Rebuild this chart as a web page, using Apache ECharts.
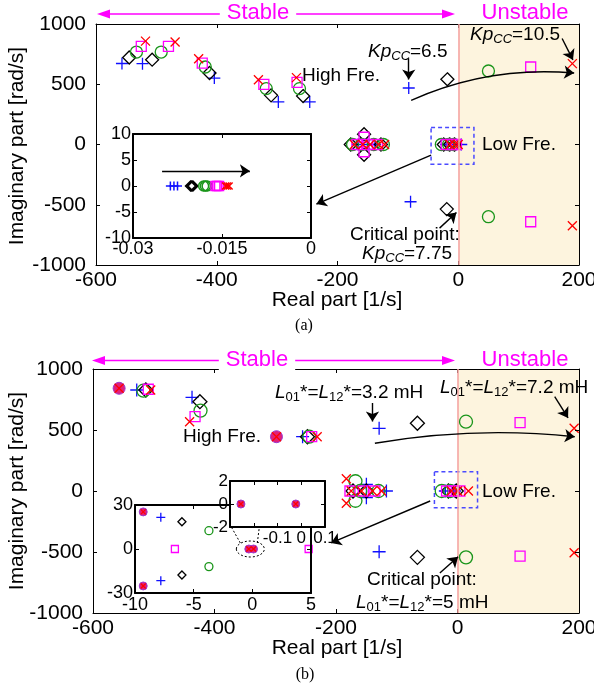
<!DOCTYPE html>
<html><head><meta charset="utf-8">
<script src="https://cdn.jsdelivr.net/npm/echarts/dist/echarts.min.js"></script>
<style>html,body{margin:0;padding:0;background:#fff}#c{width:594px;height:687px}</style>
</head><body><div id="c"></div>
<script>
// ================= DATA =================
// tick labels
const mainXTicks = ['-600','-400','-200','0','200'];
const mainYTicks = ['-1000','-500','0','500','1000'];
const aInXTicks = ['-0.03','-0.015','0'];
const aInYTicks = ['-10','-5','0','5','10'];
const bInXTicks = ['-10','-5','0','5'];
const bInYTicks = ['-30','0','30'];
const bZoomXTicks = ['','','-0.1','0','0.1'];
const bZoomYTicks = ['-2','0','2'];
const unstableRange = [0, 200];

// (a) main plot poles  [real, imag]
const aPlus = [[-557,672],[-523,671],[-404,551],[-298,353],[-246,353],
  [-166,0],[-150,0],[-138,0],[-20,0],[-8,0],[5,0],[-82,469],[-79,-475]];
const aDiamond = [[-545,722],[-507,704],[-412,593],[-310,408],[-257,402],
  [-178,0],[-156,85],[-156,-85],[-128,0],[-24,0],[-14,0],[-6,0],[-18,541],[-19,-536]];
const aCircle = [[-533,767],[-492,767],[-419,643],[-318,464],[-263,464],
  [-175,0],[-160,0],[-140,0],[-124,0],[-28,0],[-16,0],[-8,0],[50,610],[50,-599]];
const aSquare = [[-525,814],[-480,814],[-424,676],[-322,499],[-267,516],
  [-168,0],[-156,60],[-156,-60],[-150,0],[-134,0],[-20,0],[-10,0],[-3,0],[120,643],[120,-641]];
const aCross = [[-518,858],[-469,850],[-430,712],[-331,538],[-268,555],
  [-172,0],[-158,0],[-146,0],[-132,0],[-122,0],[-14,0],[-6,0],[0,0],[189,671],[189,-674]];
// (a) inset poles
const aInPlus = [[-0.0237,0],[-0.0231,0],[-0.0225,0]];
const aInDiamond = [[-0.0203,0],[-0.0201,0],[-0.0199,0]];
const aInCircle = [[-0.0181,0],[-0.0178,0],[-0.0175,0]];
const aInSquare = [[-0.0161,0],[-0.0158,0],[-0.0155,0]];
const aInCross = [[-0.0144,0],[-0.0141,0],[-0.0138,0]];

// (b) main plot poles
const bPlus = [[-528,828],[-437,768],[-255,445],[-150,55],[-150,-55],[-117,0],
  [-20,0],[-5,0],[-129,514],[-129,-498]];
const bDiamond = [[-513,828],[-424,732],[-247,445],[-172,0],[-150,0],
  [-15,0],[-2,0],[-66,555],[-66,-544]];
const bCircle = [[-517,822],[-423,659],[-244,445],[-168,80],[-168,-80],[-160,0],[-130,0],
  [-26,0],[-12,0],[14,568],[14,-544]];
const bSquare = [[-509,834],[-432,609],[-240,445],[-177,0],[-155,0],[-136,0],
  [-18,0],[-6,0],[4,0],[103,560],[103,-533]];
const bCross = [[-505,828],[-441,568],[-231,445],[-183,100],[-183,-100],[-175,0],[-158,0],[-140,0],[-125,0],
  [-10,0],[0,0],[18,0],[192,514],[192,-506]];
const bMerged = [[-557,842],[-298,445]];
// (b) insets
const bInPlus = [[-7.8,21.6],[-7.8,-21.6]];
const bInDiamond = [[-6.0,18.6],[-6.0,-17.7]];
const bInCircle = [[-3.7,12.5],[-3.7,-12]];
const bInSquare = [[-6.6,0],[4.8,0]];
const bInMerged = [[-9.3,25.3],[-9.3,-25.2],[-0.3,0],[0.1,0]];
const bZoomMerged = [[-0.254,0],[-0.023,0]];

// annotation geometry in data coordinates
const aBox = [[-45,141],[26,-163]];
const bBox = [[-38,158],[33,-137]];
const aPointers = [[[-82,715],[-82,540]],[[172,880],[190,702]],[[-31,-694],[-3,-565]],[[-45,-89],[-235,-494]]];
const aSweep = [[[-78,367],[192,593]]];
const aInArrow = [[[-0.0251,2.9],[-0.0103,2.9]]];
const bPointers = [[[-140,722],[-140,570]],[[160,773],[182,599]],[[-29,-672],[1,-539]],[[-45,-82],[-208,-426]]];
const bSweep = [[[-136,391],[193,445]]];

// ================= CHART =================
const FONT = '"Liberation Sans", Arial, Helvetica, sans-serif';
const COL = {plus:'#1010ff', diamond:'#000000', circle:'#1a951a', square:'#ff00ff', cross:'#ff0000'};
const PLUS = 'path://M0,6L12,6M6,0L6,12';
const CROSS = 'path://M0,0L12,12M12,0L0,12';
const SYM = {plus:PLUS, diamond:'diamond', circle:'circle', square:'rect', cross:CROSS};

const gb = {containLabel:false, outerBoundsMode:'none'};
const grids = [
  Object.assign({left:96, top:24, width:483, height:241}, gb),
  Object.assign({left:133, top:134, width:178, height:104, show:true, backgroundColor:'#fff', borderWidth:0, z:10}, gb),
  Object.assign({left:93, top:369, width:486, height:244}, gb),
  Object.assign({left:135, top:505, width:176, height:88, show:true, backgroundColor:'#fff', borderWidth:0, z:10}, gb),
  Object.assign({left:230, top:481, width:95, height:46, show:true, backgroundColor:'#fff', borderWidth:0, z:20}, gb)
];
const xAxes = [], yAxes = [];
function mkAxes(gi, xr, yr, xl, yl, fs, lw, z, mx, my) {
  const base = {gridIndex:gi, type:'value', z:z, splitLine:{show:false},
    axisLine:{show:true, onZero:false, lineStyle:{color:'#000', width:lw}},
    axisTick:{show:true, inside:true, length:4, lineStyle:{color:'#000', width:1}}};
  const fx = v => { const i = Math.round((v - xr[0]) / xr[2]); return xl[i] === undefined ? '' : xl[i]; };
  const fy = v => { const i = Math.round((v - yr[0]) / yr[2]); return yl[i] === undefined ? '' : yl[i]; };
  xAxes.push(Object.assign({}, base, {min:xr[0], max:xr[1], interval:xr[2], position:'bottom',
    axisLabel:{show:true, color:'#000', fontSize:fs, fontFamily:FONT, margin:mx, formatter:fx, hideOverlap:false, showMinLabel:true, showMaxLabel:true}}));
  xAxes.push(Object.assign({}, base, {min:xr[0], max:xr[1], interval:xr[2], position:'top', axisLabel:{show:false}}));
  yAxes.push(Object.assign({}, base, {min:yr[0], max:yr[1], interval:yr[2], position:'left',
    axisLabel:{show:true, color:'#000', fontSize:fs, fontFamily:FONT, margin:my, formatter:fy, hideOverlap:false, showMinLabel:true, showMaxLabel:true}}));
  yAxes.push(Object.assign({}, base, {min:yr[0], max:yr[1], interval:yr[2], position:'right', axisLabel:{show:false}}));
}
mkAxes(0, [-600,200,200], [-1000,1000,500], mainXTicks, mainYTicks, 21, 1, 3, 5, 10);
mkAxes(1, [-0.03,0,0.015], [-10,10,5], aInXTicks, aInYTicks, 18, 2, 12, 2, 2);
mkAxes(2, [-600,200,200], [-1000,1000,500], mainXTicks, mainYTicks, 21, 1, 3, 5, 10);
mkAxes(3, [-10,5,5], [-30,30,30], bInXTicks, bInYTicks, 18, 2, 12, 3, 2);
mkAxes(4, [-0.3,0.1,0.1], [-2,2,2], bZoomXTicks, bZoomYTicks, 17, 2, 22, 3, 2);

const series = [];
function pole(data, gi, kind, size, z, bw) {
  series.push({type:'scatter', xAxisIndex:gi*2, yAxisIndex:gi*2, data:data, symbol:SYM[kind], symbolSize:size,
    z:z, silent:true, itemStyle:{color:'rgba(0,0,0,0)', borderColor:COL[kind], borderWidth:bw||1.3, opacity:1}});
}
function merged(data, gi, size, z) {
  series.push({type:'scatter', xAxisIndex:gi*2, yAxisIndex:gi*2, data:data, symbol:'circle', symbolSize:size,
    z:z, silent:true, itemStyle:{color:'#e0207a', borderColor:'#9a3ad0', borderWidth:1, opacity:1}});
  series.push({type:'scatter', xAxisIndex:gi*2, yAxisIndex:gi*2, data:data, symbol:CROSS, symbolSize:size-3,
    z:z+0.1, silent:true, itemStyle:{color:'rgba(0,0,0,0)', borderColor:'#ff0000', borderWidth:1.2, opacity:1}});
}
function shade(gi, z) {
  series.push({type:'scatter', xAxisIndex:gi*2, yAxisIndex:gi*2, data:[], z:z, silent:true,
    markArea:{silent:true, itemStyle:{color:'#fdf4de'},
      data:[[{xAxis:unstableRange[0], yAxis:-1000},{xAxis:unstableRange[1], yAxis:1000}]]}});
}
function zeroLine(gi, z) {
  series.push({type:'scatter', xAxisIndex:gi*2, yAxisIndex:gi*2, data:[], z:z, silent:true,
    markLine:{silent:true, symbol:['none','none'], label:{show:false},
      lineStyle:{color:'#f4a0a0', width:1.5, type:'solid'}, data:[{xAxis:0}]}});
}
function dashBox(gi, box, z) {
  series.push({type:'scatter', xAxisIndex:gi*2, yAxisIndex:gi*2, data:[], z:z, silent:true,
    markArea:{silent:true, itemStyle:{color:'rgba(0,0,0,0)', borderColor:'#4a4aff', borderWidth:1.5, borderType:[4,3]},
      data:[[{xAxis:box[0][0], yAxis:box[0][1]},{xAxis:box[1][0], yAxis:box[1][1]}]]}});
}
function arrows(gi, segs, curv, z, size) {
  series.push({type:'lines', coordinateSystem:'cartesian2d', xAxisIndex:gi*2, yAxisIndex:gi*2, z:z, silent:true,
    data:segs.map(s => ({coords:s})), symbol:['none','arrow'], symbolSize:size||10,
    lineStyle:{color:'#000', width:1.4, curveness:curv, opacity:1}});
}

// (a)
shade(0, 1); zeroLine(0, 1.5);
pole(aPlus,0,'plus',12,2); pole(aDiamond,0,'diamond',13,2); pole(aCircle,0,'circle',12,2);
pole(aSquare,0,'square',10,2); pole(aCross,0,'cross',9,2);
dashBox(0, aBox, 6);
arrows(0, aPointers, 0, 7); arrows(0, aSweep, 0.13, 7);
pole(aInPlus,1,'plus',9,11,1.5); pole(aInDiamond,1,'diamond',10,11,1.5); pole(aInCircle,1,'circle',10,11,1.5);
pole(aInSquare,1,'square',9,11,1.5); pole(aInCross,1,'cross',7,11,1.5);
arrows(1, aInArrow, 0, 13, 10);
// (b)
shade(2, 1); zeroLine(2, 1.5);
pole(bPlus,2,'plus',13,2); pole(bDiamond,2,'diamond',14,2); pole(bCircle,2,'circle',13,2);
pole(bSquare,2,'square',10,2); pole(bCross,2,'cross',9,2);
merged(bMerged, 2, 12, 2.5);
dashBox(2, bBox, 6);
arrows(2, bPointers, 0, 7); arrows(2, bSweep, 0.07, 7);
zeroLine(3, 10.5);
pole(bInPlus,3,'plus',9,11); pole(bInDiamond,3,'diamond',8,11); pole(bInCircle,3,'circle',8,11);
pole(bInSquare,3,'square',7,11);
merged(bInMerged, 3, 8, 11.5);
zeroLine(4, 20.5);
merged(bZoomMerged, 4, 8, 21);

const chart = echarts.init(document.getElementById('c'), null, {renderer:'canvas', width:594, height:687});
chart.setOption({animation:false, backgroundColor:'#fff', grid:grids, xAxis:xAxes, yAxis:yAxes, series:series});

// ================= ANNOTATIONS =================
const RICH = {
  i:{fontFamily:FONT, fontSize:19, fontStyle:'italic', fill:'#000', color:'#000'},
  s:{fontFamily:FONT, fontSize:13, fontStyle:'italic', fill:'#000', color:'#000', padding:[9,0,0,0]},
  d:{fontFamily:FONT, fontSize:13, fill:'#000', color:'#000', padding:[9,0,0,0]},
  n:{fontFamily:FONT, fontSize:19, fill:'#000', color:'#000'}
};
const G = [];
function txt(x, y, text, o) {
  o = o || {};
  G.push({type:'text', x:x, y:y, rotation:o.rot||0, z:o.z||40, silent:true,
    style:{text:text, fill:o.color||'#000', fontFamily:o.family||FONT, fontSize:o.size||19,
      align:o.align||'left', verticalAlign:'middle', rich:RICH,
      backgroundColor:o.bg, padding:o.pad}});
}
function stableBar(y, xl, xr, sx, ux) {
  G.push({type:'line', z:40, silent:true, shape:{x1:xl+8, y1:y, x2:xr-8, y2:y}, style:{stroke:'#ff00ff', lineWidth:1.5}});
  G.push({type:'polygon', z:40, silent:true, shape:{points:[[xl,y],[xl+13,y-4.5],[xl+13,y+4.5]]}, style:{fill:'#ff00ff'}});
  G.push({type:'polygon', z:40, silent:true, shape:{points:[[xr,y],[xr-13,y-4.5],[xr-13,y+4.5]]}, style:{fill:'#ff00ff'}});
  txt(sx, y-1, 'Stable', {color:'#ff00ff', size:22, align:'center', bg:'#fff', pad:[0,7,0,7]});
  txt(ux, y-1, 'Unstable', {color:'#ff00ff', size:22, align:'center'});
}
stableBar(14, 97, 455, 258, 525);
stableBar(360.5, 92, 455, 257, 525);

// axis titles
txt(17, 146, 'Imaginary part [rad/s]', {size:21, align:'center', rot:Math.PI/2});
txt(17, 491, 'Imaginary part [rad/s]', {size:21, align:'center', rot:Math.PI/2});
txt(337, 300, 'Real part [1/s]', {size:21, align:'center'});
txt(337, 648, 'Real part [1/s]', {size:21, align:'center'});
txt(304, 326, '(a)', {size:16, align:'center', family:'"Liberation Serif", "Times New Roman", serif'});
txt(305, 675, '(b)', {size:16, align:'center', family:'"Liberation Serif", "Times New Roman", serif'});

// (a) labels
txt(368, 52, '{i|Kp}{s|CC}{n|=6.5}');
txt(470, 35, '{i|Kp}{s|CC}{n|=10.5}');
txt(302, 76, 'High Fre.');
txt(482, 145, 'Low Fre.');
txt(350, 235, 'Critical point:');
txt(362, 254, '{i|Kp}{s|CC}{n|=7.75}');
// (b) labels
txt(275, 393, '{i|L}{d|01}{n|*=}{i|L}{d|12}{n|*=3.2 mH}');
txt(440, 388, '{i|L}{d|01}{n|*=}{i|L}{d|12}{n|*=7.2 mH}');
txt(183, 437, 'High Fre.');
txt(482, 492, 'Low Fre.');
txt(367, 580, 'Critical point:');
txt(356, 603, '{i|L}{d|01}{n|*=}{i|L}{d|12}{n|*=5 mH}');

// dashed ellipse in (b) inset around the near-origin poles
const c0 = chart.convertToPixel({gridIndex:3}, [0,0]);
const cx = c0[0] - 2, cy = c0[1];
G.push({type:'ellipse', z:15, silent:true, shape:{cx:cx, cy:cy, rx:14, ry:8},
  style:{fill:null, stroke:'#000', lineWidth:1, lineDash:[2,2]}});
G.push({type:'line', z:15, silent:true, shape:{x1:cx-10, y1:cy-6, x2:cx-19, y2:cy-22}, style:{stroke:'#000', lineWidth:1, lineDash:[2,2]}});
G.push({type:'line', z:15, silent:true, shape:{x1:cx+7, y1:cy-6, x2:cx+9, y2:cy-22}, style:{stroke:'#000', lineWidth:1, lineDash:[2,2]}});

chart.setOption({graphic:G});
</script></body></html>
